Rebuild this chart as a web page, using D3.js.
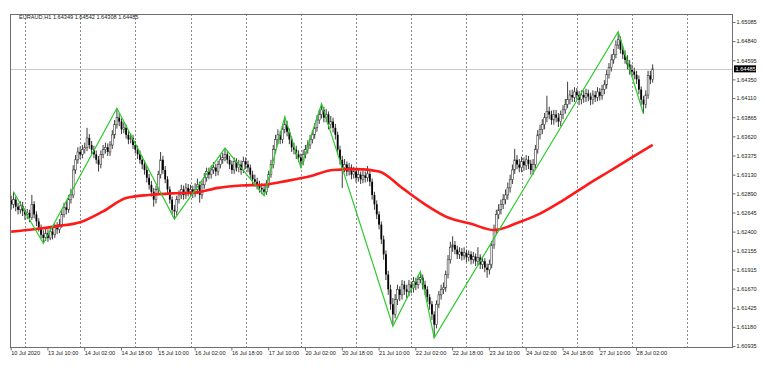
<!DOCTYPE html>
<html>
<head>
<meta charset="utf-8">
<script src="https://cdn.jsdelivr.net/npm/d3@7"></script>
<style>
  body { margin: 0; background: #fff; }
  text { font-family: "Liberation Sans", Arial, sans-serif; }
</style>
</head>
<body>
<div id="grafico"></div>
<script>
// Dados do gráfico EURAUD H1

const simbolo = "EURAUD,H1";
const primeiraAbertura = 1.6280;

// fechamento de cada barra (10 Jul 18:00 em diante)
const fechamentos = [
  1.6275,1.6281,1.6272,1.6268,1.6273,1.6266,1.6262,1.6264,1.6258,1.6275,
  1.6262,1.6253,1.6245,1.6236,1.6232,1.6238,1.6232,1.6240,1.6236,1.6245,
  1.6243,1.6249,1.6262,1.6271,1.6268,1.6281,1.6287,1.6319,1.6332,1.6342,
  1.6339,1.6345,1.6348,1.6360,1.6351,1.6345,1.6339,1.6332,1.6326,1.6339,
  1.6345,1.6348,1.6342,1.6351,1.6364,1.6377,1.6386,1.6381,1.6371,1.6373,
  1.6364,1.6358,1.6360,1.6351,1.6345,1.6339,1.6332,1.6326,1.6319,1.6309,
  1.6300,1.6291,1.6281,1.6294,1.6313,1.6332,1.6319,1.6307,1.6294,1.6281,
  1.6268,1.6266,1.6281,1.6287,1.6294,1.6287,1.6296,1.6291,1.6294,1.6289,
  1.6294,1.6300,1.6287,1.6300,1.6309,1.6317,1.6313,1.6319,1.6322,1.6317,
  1.6326,1.6332,1.6335,1.6339,1.6332,1.6326,1.6319,1.6330,1.6322,1.6326,
  1.6319,1.6330,1.6326,1.6322,1.6313,1.6307,1.6304,1.6300,1.6296,1.6294,
  1.6291,1.6300,1.6313,1.6326,1.6345,1.6358,1.6364,1.6358,1.6371,1.6377,
  1.6368,1.6358,1.6348,1.6345,1.6339,1.6335,1.6330,1.6339,1.6345,1.6351,
  1.6358,1.6364,1.6373,1.6383,1.6390,1.6396,1.6386,1.6390,1.6377,1.6381,
  1.6373,1.6364,1.6345,1.6332,1.6322,1.6326,1.6317,1.6322,1.6313,1.6317,
  1.6309,1.6313,1.6307,1.6312,1.6309,1.6314,1.6304,1.6287,1.6275,1.6262,
  1.6249,1.6230,1.6211,1.6185,1.6166,1.6147,1.6134,1.6153,1.6166,1.6159,
  1.6172,1.6166,1.6163,1.6172,1.6168,1.6176,1.6172,1.6179,1.6181,1.6172,
  1.6166,1.6156,1.6147,1.6134,1.6121,1.6147,1.6159,1.6166,1.6168,1.6185,
  1.6204,1.6220,1.6223,1.6217,1.6211,1.6214,1.6209,1.6213,1.6207,1.6211,
  1.6204,1.6208,1.6202,1.6207,1.6198,1.6202,1.6194,1.6191,1.6198,1.6223,
  1.6243,1.6262,1.6268,1.6275,1.6281,1.6287,1.6296,1.6307,1.6319,1.6332,
  1.6326,1.6322,1.6330,1.6325,1.6332,1.6327,1.6319,1.6326,1.6345,1.6364,
  1.6371,1.6377,1.6386,1.6394,1.6390,1.6383,1.6390,1.6386,1.6381,1.6390,
  1.6396,1.6403,1.6409,1.6415,1.6412,1.6419,1.6415,1.6409,1.6415,1.6412,
  1.6417,1.6413,1.6409,1.6415,1.6412,1.6419,1.6414,1.6422,1.6428,1.6441,
  1.6450,1.6460,1.6467,1.6479,1.6486,1.6473,1.6467,1.6460,1.6454,1.6447,
  1.6445,1.6441,1.6435,1.6422,1.6409,1.6403,1.6415,1.6440,1.64349,1.64485
];

const maximas = [
  1.6286,1.6291,1.6285,1.6277,1.6279,1.6278,1.6270,1.6269,1.6268,1.6287,
  1.6279,1.6266,1.6257,1.6249,1.6242,1.6244,1.6243,1.6246,1.6245,1.6250,
  1.6252,1.6256,1.6268,1.6277,1.6279,1.6287,1.6295,1.6325,1.6338,1.6348,
  1.6349,1.6351,1.6354,1.6373,1.6365,1.6356,1.6350,1.6344,1.6337,1.6344,
  1.6351,1.6354,1.6353,1.6356,1.6370,1.6383,1.6398,1.6392,1.6385,1.6380,
  1.6377,1.6369,1.6366,1.6364,1.6356,1.6350,1.6344,1.6337,1.6331,1.6324,
  1.6314,1.6305,1.6296,1.6299,1.6318,1.6342,1.6337,1.6324,1.6311,1.6298,
  1.6285,1.6274,1.6286,1.6293,1.6300,1.6299,1.6302,1.6301,1.6300,1.6299,
  1.6302,1.6308,1.6304,1.6305,1.6315,1.6322,1.6322,1.6325,1.6329,1.6327,
  1.6331,1.6338,1.6341,1.6347,1.6343,1.6337,1.6331,1.6335,1.6334,1.6332,
  1.6331,1.6336,1.6335,1.6331,1.6326,1.6318,1.6313,1.6309,1.6305,1.6302,
  1.6299,1.6306,1.6318,1.6332,1.6351,1.6364,1.6371,1.6369,1.6378,1.6387,
  1.6382,1.6372,1.6362,1.6354,1.6350,1.6344,1.6340,1.6345,1.6351,1.6357,
  1.6364,1.6370,1.6379,1.6389,1.6396,1.6404,1.6400,1.6397,1.6394,1.6388,
  1.6386,1.6378,1.6368,1.6350,1.6337,1.6333,1.6330,1.6328,1.6326,1.6323,
  1.6321,1.6319,1.6317,1.6318,1.6317,1.6324,1.6318,1.6308,1.6291,1.6280,
  1.6266,1.6253,1.6235,1.6216,1.6190,1.6172,1.6155,1.6160,1.6172,1.6170,
  1.6178,1.6177,1.6172,1.6178,1.6176,1.6182,1.6181,1.6184,1.6189,1.6185,
  1.6177,1.6170,1.6160,1.6151,1.6138,1.6152,1.6164,1.6172,1.6175,1.6190,
  1.6210,1.6227,1.6234,1.6228,1.6222,1.6220,1.6219,1.6220,1.6217,1.6216,
  1.6215,1.6214,1.6212,1.6220,1.6211,1.6208,1.6206,1.6199,1.6204,1.6228,
  1.6249,1.6268,1.6275,1.6281,1.6288,1.6294,1.6303,1.6313,1.6326,1.6346,
  1.6338,1.6333,1.6336,1.6335,1.6338,1.6337,1.6332,1.6333,1.6351,1.6370,
  1.6377,1.6384,1.6392,1.6414,1.6400,1.6395,1.6396,1.6396,1.6392,1.6395,
  1.6402,1.6410,1.6432,1.6421,1.6422,1.6425,1.6424,1.6420,1.6421,1.6421,
  1.6423,1.6422,1.6418,1.6421,1.6420,1.6425,1.6424,1.6428,1.6434,1.6447,
  1.6456,1.6467,1.6474,1.6485,1.6496,1.6490,1.6478,1.6472,1.6466,1.6460,
  1.6454,1.6450,1.6446,1.6440,1.6426,1.6414,1.6421,1.6446,1.6446,1.64542
];

const minimas = [
  1.6268,1.6270,1.6266,1.6262,1.6263,1.6260,1.6255,1.6256,1.6252,1.6255,
  1.6257,1.6247,1.6240,1.6231,1.6225,1.6228,1.6227,1.6229,1.6230,1.6232,
  1.6237,1.6238,1.6245,1.6258,1.6262,1.6264,1.6276,1.6283,1.6314,1.6327,
  1.6333,1.6334,1.6340,1.6343,1.6346,1.6339,1.6334,1.6327,1.6317,1.6321,
  1.6334,1.6340,1.6337,1.6337,1.6346,1.6359,1.6372,1.6375,1.6365,1.6366,
  1.6359,1.6352,1.6353,1.6346,1.6340,1.6333,1.6327,1.6320,1.6313,1.6303,
  1.6294,1.6285,1.6272,1.6276,1.6289,1.6308,1.6314,1.6302,1.6288,1.6276,
  1.6262,1.6256,1.6261,1.6276,1.6282,1.6281,1.6282,1.6285,1.6286,1.6283,
  1.6284,1.6288,1.6277,1.6282,1.6295,1.6304,1.6307,1.6308,1.6314,1.6311,
  1.6312,1.6321,1.6327,1.6330,1.6327,1.6320,1.6314,1.6314,1.6317,1.6316,
  1.6313,1.6315,1.6320,1.6316,1.6308,1.6301,1.6298,1.6294,1.6290,1.6288,
  1.6286,1.6287,1.6296,1.6309,1.6321,1.6340,1.6352,1.6352,1.6353,1.6366,
  1.6362,1.6352,1.6342,1.6339,1.6333,1.6329,1.6322,1.6325,1.6334,1.6340,
  1.6346,1.6353,1.6359,1.6368,1.6378,1.6385,1.6380,1.6380,1.6371,1.6372,
  1.6367,1.6358,1.6339,1.6326,1.6296,1.6316,1.6311,1.6312,1.6307,1.6308,
  1.6303,1.6304,1.6301,1.6302,1.6303,1.6304,1.6298,1.6281,1.6268,1.6256,
  1.6243,1.6224,1.6204,1.6178,1.6159,1.6140,1.6119,1.6129,1.6146,1.6151,
  1.6153,1.6159,1.6155,1.6157,1.6161,1.6162,1.6165,1.6167,1.6174,1.6166,
  1.6159,1.6150,1.6140,1.6127,1.6104,1.6116,1.6142,1.6153,1.6160,1.6163,
  1.6180,1.6199,1.6214,1.6211,1.6205,1.6205,1.6203,1.6204,1.6201,1.6202,
  1.6198,1.6199,1.6196,1.6197,1.6192,1.6192,1.6188,1.6181,1.6185,1.6193,
  1.6218,1.6237,1.6256,1.6262,1.6269,1.6275,1.6281,1.6290,1.6301,1.6314,
  1.6320,1.6316,1.6316,1.6318,1.6319,1.6320,1.6313,1.6313,1.6321,1.6340,
  1.6358,1.6365,1.6371,1.6380,1.6384,1.6377,1.6377,1.6380,1.6374,1.6375,
  1.6384,1.6391,1.6398,1.6403,1.6406,1.6406,1.6409,1.6402,1.6403,1.6405,
  1.6406,1.6407,1.6402,1.6403,1.6406,1.6407,1.6408,1.6409,1.6416,1.6423,
  1.6436,1.6445,1.6455,1.6462,1.6474,1.6468,1.6461,1.6455,1.6448,1.6441,
  1.6439,1.6435,1.6429,1.6416,1.6402,1.6391,1.6398,1.6410,1.6429,1.64308
];

// média móvel (vermelha), lida a cada 10 barras
const mediaBarras = [0,10,20,30,40,50,60,70,80,90,100,110,120,130,140,150,160,170,180,190,200,210,220,230,240,250,260,270,279];
const mediaValores = [1.6240,1.6243,1.6247,1.6252,1.6266,1.6283,1.6287,1.6289,1.6290,1.6296,1.6299,1.6300,1.6305,1.6311,1.6319,
  1.6320,1.6317,1.6296,1.6275,1.6258,1.6250,1.6242,1.6251,1.6263,1.6280,1.6299,1.6317,1.6335,1.6351];

// zigzag (verde)
const zigBarras = [1,14,46,71,93,110,119,126,135,166,178,184,264,275];
const zigPrecos = [1.6291,1.6225,1.6398,1.6256,1.6347,1.6286,1.6387,1.6322,1.6404,1.6119,1.6189,1.6104,1.6496,1.6391];

// rótulos dos eixos
const precoTicks = [1.65085,1.64840,1.64595,1.64350,1.64110,1.63865,1.63620,1.63375,1.63130,
  1.62890,1.62645,1.62400,1.62155,1.61915,1.61670,1.61425,1.61180,1.60935];
const tempoLabels = ["10 Jul 2020","13 Jul 10:00","14 Jul 02:00","14 Jul 18:00","15 Jul 10:00","16 Jul 02:00",
  "16 Jul 18:00","17 Jul 10:00","20 Jul 02:00","20 Jul 18:00","21 Jul 10:00","22 Jul 02:00","22 Jul 18:00",
  "23 Jul 10:00","24 Jul 02:00","24 Jul 18:00","27 Jul 10:00","28 Jul 02:00"];
const barrasPorLabel = 16;
const inicio = new Date(2020, 6, 10, 18);
const barrasVisiveis = 314;


// Dimensões
const width = 765, height = 374;
const area = {left: 10, top: 14, right: 732, bottom: 347};

const svg = d3.select("#grafico")
  .append("svg")
    .attr("width", width)
    .attr("height", height)
    .style("display", "block");

svg.append("rect")
  .attr("width", width)
  .attr("height", height)
  .attr("fill", "#fff");

// Escalas
const x = d3.scaleLinear()
  .domain([-0.5, barrasVisiveis - 0.5])
  .range([area.left, area.right]);

const y = d3.scaleLinear()
  .domain([1.60935, 1.65085])
  .range([346, 22]);

// horários das barras (fim de semana não tem barra)
const tempos = [];
let t = inicio;
while (tempos.length < barrasVisiveis) {
  if (t.getDay() !== 0 && t.getDay() !== 6) tempos.push(t);
  t = d3.timeHour.offset(t, 1);
}

// Grade vertical: começo de cada dia
const grade = tempos.map((d, i) => i).filter(i => tempos[i].getHours() === 0);
svg.append("g")
  .selectAll("line")
  .data(grade)
  .join("line")
    .attr("x1", d => Math.round(x(d)) + 0.5)
    .attr("x2", d => Math.round(x(d)) + 0.5)
    .attr("y1", area.top)
    .attr("y2", area.bottom)
    .attr("stroke", "#8a8a8a")
    .attr("stroke-width", 1)
    .attr("stroke-dasharray", "2,2");

// linha do preço atual
const atual = fechamentos[fechamentos.length - 1];
svg.append("line")
  .attr("x1", area.left)
  .attr("x2", area.right)
  .attr("y1", Math.round(y(atual)) + 0.5)
  .attr("y2", Math.round(y(atual)) + 0.5)
  .attr("stroke", "#c8c8c8");

// Candles (abertura = fechamento anterior)
const candles = fechamentos.map((c, i) => ({
  i: i,
  o: i ? fechamentos[i - 1] : primeiraAbertura,
  h: maximas[i],
  l: minimas[i],
  c: c
}));

const gc = svg.append("g");
gc.selectAll("line")
  .data(candles)
  .join("line")
    .attr("x1", d => x(d.i))
    .attr("x2", d => x(d.i))
    .attr("y1", d => y(d.h))
    .attr("y2", d => y(d.l))
    .attr("stroke", "#3c3c3c")
    .attr("stroke-width", 1);

gc.selectAll("rect")
  .data(candles)
  .join("rect")
    .attr("x", d => x(d.i) - 0.9)
    .attr("width", 1.8)
    .attr("y", d => y(Math.max(d.o, d.c)))
    .attr("height", d => Math.max(0.6, Math.abs(y(d.o) - y(d.c))))
    .attr("fill", d => d.c < d.o ? "#000" : "#fff")
    .attr("stroke", d => d.c < d.o ? "none" : "#3c3c3c")
    .attr("stroke-width", 0.6);

// Média móvel
svg.append("path")
  .datum(mediaBarras.map((b, i) => [b, mediaValores[i]]))
  .attr("fill", "none")
  .attr("stroke", "#ff1a1a")
  .attr("stroke-width", 2.6)
  .attr("stroke-linejoin", "round")
  .attr("d", d3.line()
    .x(d => x(d[0]))
    .y(d => y(d[1]))
    .curve(d3.curveMonotoneX));

// ZigZag
svg.append("path")
  .datum(zigBarras.map((b, i) => [b, zigPrecos[i]]))
  .attr("fill", "none")
  .attr("stroke", "#2ecb2e")
  .attr("stroke-width", 1.2)
  .attr("d", d3.line()
    .x(d => x(d[0]))
    .y(d => y(d[1])));

// Moldura
svg.append("rect")
  .attr("x", area.left + 0.5)
  .attr("y", area.top + 0.5)
  .attr("width", area.right - area.left)
  .attr("height", area.bottom - area.top)
  .attr("fill", "none")
  .attr("stroke", "#6e6e6e");

// Eixo y (direita)
const eixoY = svg.append("g")
  .attr("transform", `translate(${area.right + 0.5},0)`)
  .call(d3.axisRight(y).tickValues(precoTicks).tickFormat(d3.format(".5f")).tickSize(3).tickPadding(1));
eixoY.select(".domain").remove();
eixoY.selectAll("line").attr("stroke", "#6e6e6e");
eixoY.selectAll("text").attr("font-size", 5.6).attr("fill", "#222");

// etiqueta do preço atual
svg.append("rect")
  .attr("x", area.right + 2)
  .attr("y", y(atual) - 3.5)
  .attr("width", 22)
  .attr("height", 7)
  .attr("fill", "#000");
svg.append("text")
  .attr("x", area.right + 3.5)
  .attr("y", y(atual))
  .attr("dy", "0.35em")
  .attr("font-size", 5.6)
  .attr("fill", "#fff")
  .text(d3.format(".5f")(atual));

// Eixo x
const labelBarras = tempoLabels.map((d, i) => i * barrasPorLabel);
const eixoX = svg.append("g")
  .attr("transform", `translate(0,${area.bottom + 0.5})`)
  .call(d3.axisBottom(x).tickValues(labelBarras).tickFormat((d, i) => tempoLabels[i]).tickSize(3));
eixoX.select(".domain").remove();
eixoX.selectAll("line")
  .attr("stroke", "#6e6e6e")
  .attr("transform", "translate(-0.5,0)");
eixoX.selectAll("text")
  .attr("font-size", 5.6)
  .attr("fill", "#222")
  .attr("text-anchor", "start")
  .attr("x", -0.5)
  .attr("y", 4)
  .attr("dy", "0.71em");

// Título no canto
const o = candles[candles.length - 1];
svg.append("text")
  .attr("x", 19)
  .attr("y", 19.3)
  .attr("font-size", 5.6)
  .attr("fill", "#222")
  .text(`${simbolo}  ${[o.o, o.h, o.l, o.c].map(d3.format(".5f")).join(" ")}`);
</script>
</body>
</html>
